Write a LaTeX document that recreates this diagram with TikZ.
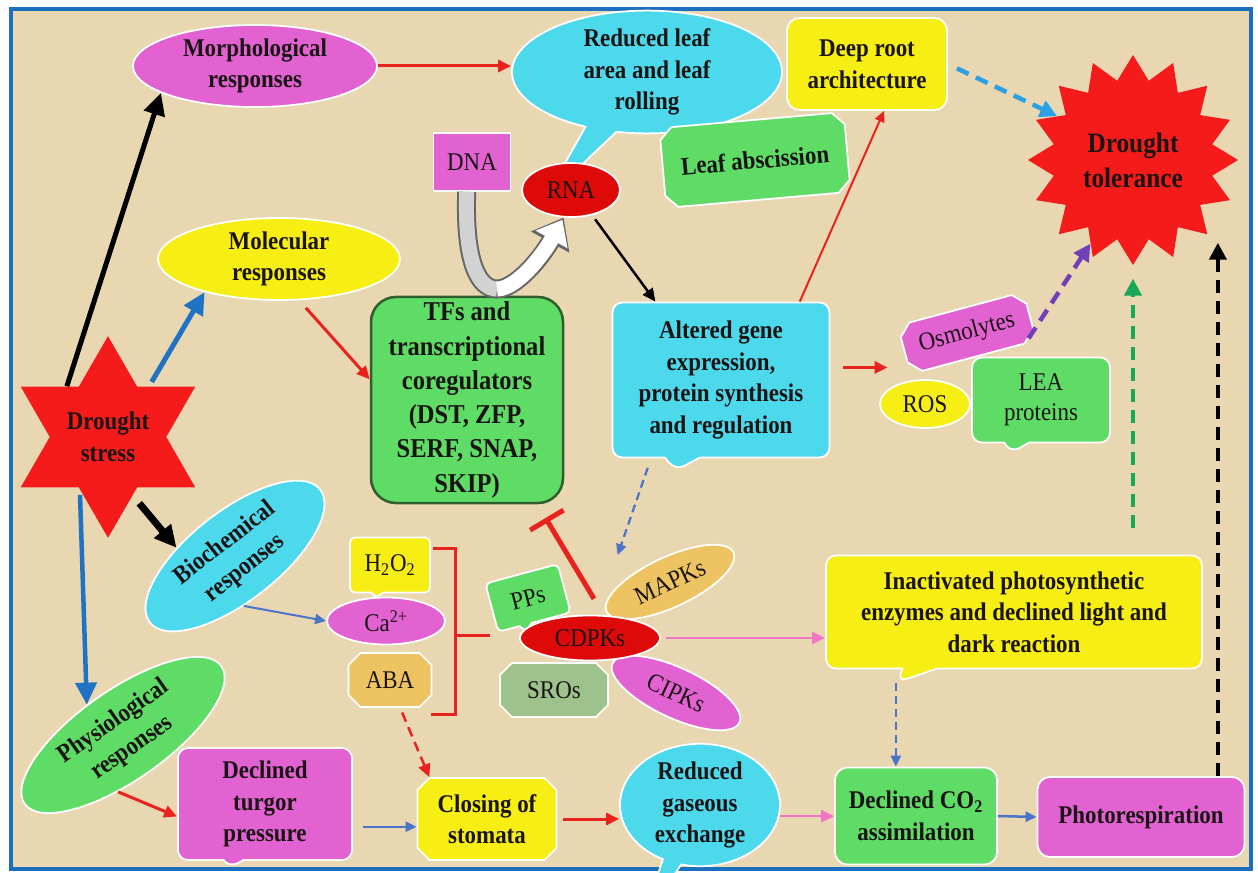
\documentclass[tikz,border=0pt]{standalone}
\usepackage{fontspec}
\setmainfont{Liberation Serif}[FakeStretch=0.9]
\usetikzlibrary{arrows.meta,calc,shapes.geometric,shapes.misc,shapes.callouts}
\definecolor{parch}{HTML}{E9D7B2}
\definecolor{frameblue}{HTML}{1C6FBF}
\definecolor{pinkfill}{HTML}{E362D2}
\definecolor{yel}{HTML}{F7EF14}
\definecolor{cyanfill}{HTML}{4DD9EC}
\definecolor{greenfill}{HTML}{5EDC66}
\definecolor{redfill}{HTML}{F51B1B}
\definecolor{rnared}{HTML}{DE0A0A}
\definecolor{orangefill}{HTML}{EEC462}
\definecolor{srofill}{HTML}{9EC28C}
\definecolor{tfsedge}{HTML}{2E5E2E}
\definecolor{ink}{HTML}{1B1414}
\definecolor{arrred}{HTML}{E8231E}
\definecolor{arrblue}{HTML}{1F72C4}
\definecolor{arrlblue}{HTML}{4A74C6}
\definecolor{skyblue}{HTML}{2AA0E6}
\definecolor{dashpurple}{HTML}{7040B8}
\definecolor{dashgreen}{HTML}{18A85A}
\definecolor{arrpink}{HTML}{F276C6}
\tikzset{
  lbl/.style={align=center,text=ink,inner sep=0pt,draw=white,line width=0.35mm,font=\fontsize{14.5}{18}\selectfont\bfseries},
  plain/.style={font=\fontsize{14.5}{17}\selectfont},
  oval/.style={lbl,ellipse},
  panel/.style={lbl,rounded corners=2.5mm},
  plaque/.style={lbl,chamfered rectangle,chamfered rectangle xsep=1.2mm,chamfered rectangle ysep=1.2mm},
  bubble/.style={lbl,rectangle callout,rounded corners=2mm,callout pointer width=7mm},
  blob/.style={lbl,ellipse callout,callout pointer arc=14},
  burst/.style={star,align=center,text=ink,inner sep=0pt,fill=redfill,font=\fontsize{14.5}{18}\selectfont\bfseries},
  arr/.style={line width=0.6mm,-{Triangle[length=2.6mm,width=2.4mm]}},
  heavy/.style={line width=1mm,-{Triangle[length=4.4mm,width=4.2mm]}},
  slim/.style={line width=0.4mm,-{Triangle[length=2.2mm,width=2mm]}},
  dasharr/.style={line width=0.9mm,dash pattern=on 2.6mm off 1.6mm,-{Triangle[length=3.4mm,width=3.4mm]}},
  slimdash/.style={line width=0.45mm,dash pattern=on 1.6mm off 1mm,-{Triangle[length=2.2mm,width=2mm]}}
}
\begin{document}
\begin{tikzpicture}[x=0.2mm,y=-0.2mm]
  \useasboundingbox (0,0) rectangle (1258,873);
  \fill[white] (0,0) rectangle (1258,873);
  \draw[fill=parch,draw=frameblue,line width=0.8mm] (11,9) rectangle (1251,869);

  \node[oval,fill=pinkfill,minimum width=48.8mm,minimum height=16.4mm] (morph) at (255,66) {Morphological\\responses};
  \node[oval,fill=yel,minimum width=48.4mm,minimum height=16.4mm] (molec) at (279,259) {Molecular\\responses};
  \node[burst,star points=6,star point ratio=1.73,minimum size=40mm] (ds) at (108,437) {Drought\\stress};
  \node[oval,fill=cyanfill,rotate=38,minimum width=43.2mm,minimum height=18mm] (bio) at (235,556) {Biochemical\\responses};
  \node[oval,fill=greenfill,rotate=35,minimum width=48mm,minimum height=18mm] (phys) at (123,735) {Physiological\\responses};
  \node[bubble,fill=pinkfill,callout pointer width=4mm,minimum width=34.8mm,minimum height=22.4mm,callout relative pointer={(-0.9mm,-1.6mm)}] (turgor) at (265,804) {Declined\\turgor\\pressure};
  \node[plaque,fill=yel,minimum width=27.8mm,minimum height=16.4mm] (closing) at (487,819) {Closing of\\stomata};
  \node[blob,fill=cyanfill,minimum width=32mm,minimum height=23mm,callout relative pointer={(-6mm,-12.2mm)}] (redgas) at (700,805) {Reduced\\gaseous\\exchange};
  \node[panel,fill=greenfill,minimum width=32.4mm,minimum height=19.4mm] (co2) at (916,816) {Declined CO\textsubscript{2}\\assimilation};
  \node[panel,fill=pinkfill,minimum width=41.4mm,minimum height=16mm] (photo) at (1141,817) {Photorespiration};
  \node[bubble,fill=yel,minimum width=75.2mm,minimum height=22.6mm,callout relative pointer={(-4.5mm,-2.7mm)}] (inact) at (1014,612) {Inactivated photosynthetic\\enzymes and declined light and\\dark reaction};
  \node[blob,fill=cyanfill,minimum width=54mm,minimum height=23mm,callout relative pointer={(-11.4mm,-14.2mm)}] (leafarea) at (647,72) {Reduced leaf\\area and leaf\\rolling};
  \node[panel,fill=yel,minimum width=32mm,minimum height=18.4mm] (deeproot) at (867,64) {Deep root\\architecture};
  \node[plaque,fill=greenfill,rotate=5,minimum width=37mm,minimum height=16mm] (leafabs) at (755,160) {Leaf abscission};
  \node[burst,star points=16,star point ratio=1.3,minimum size=42mm,font=\fontsize{16}{20}\selectfont\bfseries] (tol) at (1133,160) {Drought\\tolerance};
  \node[lbl,plain,fill=pinkfill,minimum width=15.4mm,minimum height=11.6mm] (dna) at (472,162) {DNA};
  \node[oval,plain,fill=rnared,minimum width=19.6mm,minimum height=10.8mm] (rna) at (571,190) {RNA};
  \node[panel,fill=greenfill,draw=tfsedge,line width=0.5mm,rounded corners=5mm,minimum width=38.4mm,minimum height=41.2mm,font=\fontsize{15.5}{19.5}\selectfont\bfseries] (tfs) at (467,400) {TFs and\\transcriptional\\coregulators\\(DST, ZFP,\\SERF, SNAP,\\SKIP)};
  \node[bubble,fill=cyanfill,minimum width=43.4mm,minimum height=31mm,callout relative pointer={(-1.3mm,-2.6mm)}] (altered) at (721,380) {Altered gene\\expression,\\protein synthesis\\and regulation};
  \node[plaque,plain,fill=pinkfill,rotate=15,minimum width=26mm,minimum height=10mm] (osmo) at (967,333) {Osmolytes};
  \node[oval,plain,fill=yel,minimum width=18mm,minimum height=9.6mm] (ros) at (925,404) {ROS};
  \node[bubble,plain,fill=greenfill,callout pointer width=5mm,minimum width=27.6mm,minimum height=17mm,callout relative pointer={(-1.2mm,-2.1mm)}] (lea) at (1041,400) {LEA\\proteins};
  \node[bubble,plain,fill=yel,rounded corners=1mm,callout pointer width=2.5mm,minimum width=16mm,minimum height=11mm,callout relative pointer={(-0.5mm,-1.1mm)}] (h2o2) at (390,565) {H\textsubscript{2}O\textsubscript{2}};
  \node[oval,plain,fill=pinkfill,minimum width=23.6mm,minimum height=9.4mm] (ca) at (386,621) {Ca\textsuperscript{2+}};
  \node[plaque,plain,fill=orangefill,minimum width=16.6mm,minimum height=10.8mm] (aba) at (390,680) {ABA};
  \node[bubble,plain,fill=greenfill,rotate=15,rounded corners=1mm,callout pointer width=2.5mm,minimum width=15mm,minimum height=10mm,callout relative pointer={(-0.5mm,-1.4mm)}] (pps) at (528,598) {PPs};
  \node[oval,plain,fill=orangefill,rotate=25,minimum width=28mm,minimum height=10mm] (mapks) at (670,582) {MAPKs};
  \node[plaque,plain,fill=srofill,minimum width=21.6mm,minimum height=10.8mm] (sros) at (554,690) {SROs};
  \node[oval,plain,fill=pinkfill,rotate=-25,minimum width=28mm,minimum height=10mm] (cipks) at (676,693) {CIPKs};
  \node[oval,plain,fill=rnared,minimum width=28mm,minimum height=9mm] (cdpks) at (590,638) {CDPKs};

  \draw[arrred,line width=0.6mm] (433,548) -- (455,548) -- (455,714) -- (431,714) (455,635) -- (490,635);

  \coordinate (bend) at (497,289);
  \draw[line width=3.8mm,black!60,-{Triangle[length=5.6mm,width=8.4mm]}] (dna.-100) .. controls +(-2.5,69) and +(-19,0) .. (bend) .. controls +(19,0) and +(-21.5,39) .. (rna.-105);
  \draw[line width=3mm,gray!35] (dna.-100) .. controls +(-2.5,69) and +(-19,0) .. (bend);
  \draw[line width=3mm,white,-{Triangle[length=4.5mm,width=7mm]},shorten >=0.5mm] (bend) .. controls +(19,0) and +(-21.5,39) .. (rna.-105);

  \coordinate (altTop) at ($(altered.north west)!0.2!(altered.north east)$);
  \coordinate (altTopR) at ($(altered.north west)!0.86!(altered.north east)$);
  \coordinate (altRight) at ($(altered.north east)!0.42!(altered.south east)$);
  \coordinate (altBot) at ($(altered.south west)!0.18!(altered.south east)$);
  \coordinate (turgLeft) at ($(turgor.north west)!0.61!(turgor.south west)$);
  \coordinate (turgRight) at ($(turgor.north east)!0.7!(turgor.south east)$);

  \draw[heavy] (ds.129) -- (morph.196);
  \draw[heavy,arrblue,shorten <=1mm] (ds.51) -- (molec.204);
  \draw[heavy,line width=1.4mm,shorten <=2mm] (ds.-67) -- (bio.134);
  \draw[heavy,arrblue,line width=0.9mm,shorten <=1mm] (ds.242) -- (phys.105);
  \draw[arr,arrred] (morph.east) -- (morph.east -| leafarea.west);
  \draw[arr,arrred,shorten <=2mm] (molec.-64) -- (tfs.168);
  \draw[arr,line width=0.5mm,shorten <=1mm] (rna.-50) -- (altTop);
  \draw[slim,arrred] (altTopR) -- (deeproot.-70);
  \draw[arr,arrred,shorten <=2.5mm,shorten >=1mm] (altRight) -- (altRight -| ros.north west);
  \draw[dasharr,dashpurple] (osmo.-20) -- (tol.243);
  \draw[dasharr,skyblue,shorten <=2mm] (deeproot.east) -- (tol.150);
  \draw[dasharr,dashgreen,shorten <=5.4mm,shorten >=2.6mm] (tol.south |- inact.north) -- (tol.south);
  \draw[dasharr,black,shorten >=1.6mm] (photo.28) -- (photo.28 |- tol.-45);
  \draw[slimdash,arrlblue,shorten <=2mm,shorten >=12.6mm] (altBot) -- (cdpks.73);
  \draw[arrred,line width=1mm,-{Bar[width=7.8mm]},shorten <=3.8mm,shorten >=3.2mm] (cdpks.59) -- (tfs.-56);
  \draw[slim,arrlblue] (bio.-118) -- (ca.west);
  \draw[arr,arrpink,line width=0.5mm,shorten <=1mm] (cdpks.east) -- (cdpks.east -| inact.west);
  \draw[arr,arrred,line width=0.5mm,dash pattern=on 2mm off 1.2mm,shorten <=1mm] (aba.-70) -- (closing.144);
  \draw[arr,arrred] (phys.-130) -- (turgLeft);
  \draw[slim,arrlblue,line width=0.5mm,shorten <=2mm] (turgRight) -- (turgRight -| closing.west);
  \draw[arr,arrred,shorten <=1.2mm] (closing.east) -- (closing.east -| redgas.west);
  \draw[arr,arrpink,line width=0.5mm] (redgas.-8) -- (redgas.-8 -| co2.west);
  \draw[slimdash,arrlblue] (inact.pointer) -- (inact.pointer |- co2.north);
  \draw[slim,arrlblue,line width=0.5mm] (co2.east) -- (photo.west);
\end{tikzpicture}
\end{document}
